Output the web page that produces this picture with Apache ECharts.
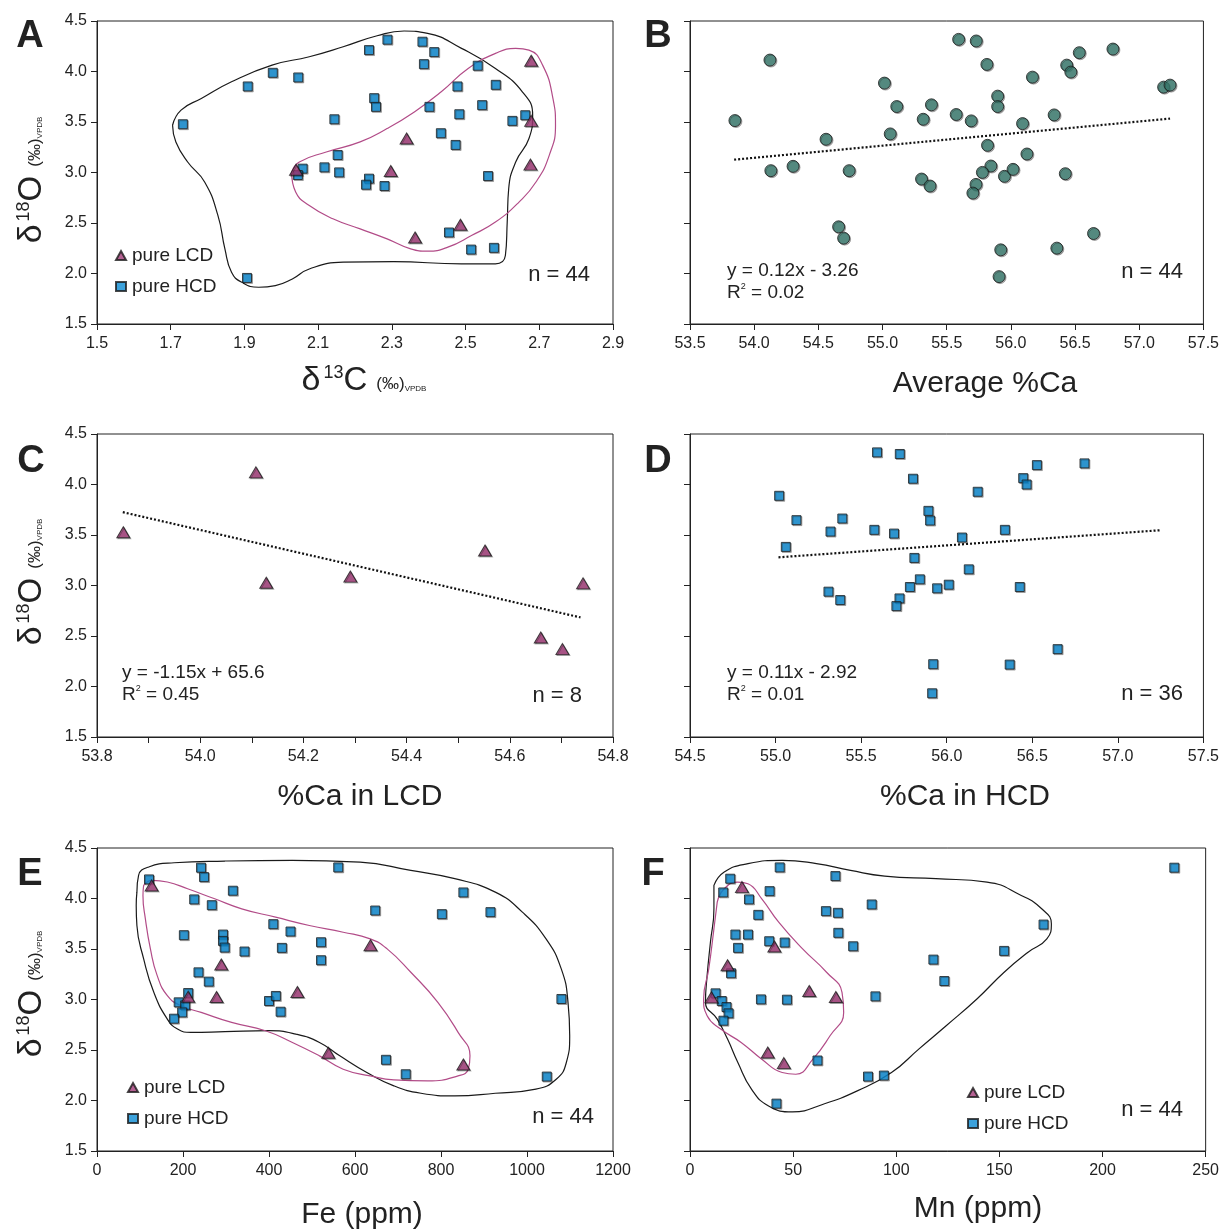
<!DOCTYPE html>
<html>
<head>
<meta charset="utf-8">
<script src="https://cdn.jsdelivr.net/npm/echarts@6/dist/echarts.min.js"></script>
<style>
  html, body { margin: 0; padding: 0; background: #fff; }
  #chart { width: 1222px; height: 1232px; }
</style>
</head>
<body>
<div id="chart"></div>
<script>
const FONT = '"Liberation Sans", Arial, sans-serif';

// tick values
const yTicks = [1.5, 2.0, 2.5, 3.0, 3.5, 4.0, 4.5];
const aXTicks = [1.5, 1.7, 1.9, 2.1, 2.3, 2.5, 2.7, 2.9];
const bXTicks = [53.5, 54.0, 54.5, 55.0, 55.5, 56.0, 56.5, 57.0, 57.5];
const cXLabels = [53.8, 54.0, 54.2, 54.4, 54.6, 54.8];
const cXTicks = [53.8, 53.9, 54.0, 54.1, 54.2, 54.3, 54.4, 54.5, 54.6, 54.7, 54.8];
const dXTicks = [54.5, 55.0, 55.5, 56.0, 56.5, 57.0, 57.5];
const eXTicks = [0, 200, 400, 600, 800, 1000, 1200];
const fXTicks = [0, 50, 100, 150, 200, 250];

// A: d13C vs d18O
const aHcd = [
  [1.733, 3.478], [1.909, 3.852], [1.977, 3.987], [2.046, 3.941], [1.907, 1.956],
  [2.144, 3.527], [2.238, 4.212], [2.288, 4.315], [2.252, 3.736], [2.257, 3.650],
  [2.383, 4.295], [2.415, 4.192], [2.387, 4.073], [2.533, 4.057], [2.478, 3.852],
  [2.582, 3.868], [2.402, 3.650], [2.483, 3.577], [2.545, 3.667], [2.627, 3.511],
  [2.662, 3.567], [2.433, 3.389], [2.473, 3.273], [2.153, 3.173], [2.058, 3.038],
  [2.045, 2.975], [2.117, 3.051], [2.157, 3.001], [2.238, 2.939], [2.230, 2.879],
  [2.280, 2.866], [2.561, 2.965], [2.455, 2.406], [2.515, 2.237], [2.577, 2.254]
];
const aLcd = [
  [2.678, 4.106], [2.678, 3.511], [2.676, 3.078], [2.340, 3.336],
  [2.297, 3.015], [2.040, 3.028], [2.486, 2.482], [2.363, 2.356]
];
const aBlack = [
  [1.705, 3.468], [1.728, 3.617], [1.783, 3.733], [1.865, 3.898], [1.975, 4.063],
  [2.076, 4.146], [2.168, 4.245], [2.260, 4.354], [2.333, 4.401], [2.397, 4.378],
  [2.489, 4.229], [2.581, 4.030], [2.654, 3.799], [2.682, 3.567], [2.672, 3.336],
  [2.636, 3.104], [2.617, 2.839], [2.613, 2.509], [2.608, 2.178], [2.581, 2.095],
  [2.489, 2.095], [2.305, 2.118], [2.168, 2.112], [2.076, 2.045], [2.030, 1.946],
  [1.984, 1.880], [1.939, 1.864], [1.893, 1.913], [1.865, 2.012], [1.847, 2.244],
  [1.828, 2.575], [1.792, 2.906], [1.746, 3.104], [1.714, 3.303]
];
const aMagenta = [
  [2.028, 3.005], [2.049, 3.104], [2.122, 3.203], [2.214, 3.303], [2.287, 3.435],
  [2.361, 3.600], [2.434, 3.799], [2.507, 4.030], [2.581, 4.179], [2.636, 4.229],
  [2.672, 4.212], [2.709, 4.063], [2.737, 3.733], [2.744, 3.468], [2.727, 3.170],
  [2.691, 2.906], [2.645, 2.707], [2.581, 2.509], [2.516, 2.376], [2.452, 2.261],
  [2.397, 2.221], [2.351, 2.244], [2.287, 2.343], [2.214, 2.442], [2.140, 2.542],
  [2.076, 2.674], [2.039, 2.806]
];

// B: average %Ca vs d18O
const bAll = [
  [53.850, 3.514], [54.123, 4.113], [54.130, 3.018], [54.303, 3.061], [54.560, 3.329],
  [54.740, 3.018], [54.658, 2.462], [54.697, 2.350], [55.015, 3.885], [55.111, 3.653],
  [55.060, 3.382], [55.317, 3.527], [55.381, 3.670], [55.304, 2.935], [55.370, 2.866],
  [55.593, 4.318], [55.730, 4.302], [55.574, 3.574], [55.691, 3.511], [55.813, 4.070],
  [55.897, 3.756], [55.897, 3.653], [55.818, 3.269], [55.844, 3.064], [55.778, 3.001],
  [55.728, 2.882], [55.704, 2.796], [55.950, 2.962], [56.017, 3.031], [55.921, 2.234],
  [55.908, 1.969], [56.091, 3.484], [56.125, 3.183], [56.168, 3.944], [56.337, 3.570],
  [56.424, 2.988], [56.358, 2.251], [56.435, 4.063], [56.467, 3.994], [56.533, 4.186],
  [56.644, 2.396], [56.795, 4.222], [57.190, 3.845], [57.240, 3.865]
];
const bTrend = [[53.844, 3.127], [57.240, 3.534]];

// C: %Ca in LCD
const cLcd = [
  [53.851, 3.527], [54.108, 4.120], [54.128, 3.028], [54.291, 3.088],
  [54.552, 3.346], [54.660, 2.485], [54.702, 2.370], [54.742, 3.021]
];
const cTrend = [[53.850, 3.726], [54.737, 2.684]];

// D: %Ca in HCD
const dHcd = [
  [55.021, 3.888], [55.060, 3.382], [55.122, 3.647], [55.321, 3.534], [55.390, 3.663],
  [55.309, 2.939], [55.378, 2.856], [55.577, 3.551], [55.593, 4.318], [55.726, 4.302],
  [55.692, 3.514], [55.803, 4.057], [55.893, 3.739], [55.903, 3.643], [55.811, 3.273],
  [55.843, 3.061], [55.785, 2.985], [55.724, 2.872], [55.706, 2.796], [55.944, 2.972],
  [56.012, 3.008], [55.921, 2.221], [55.915, 1.933], [56.089, 3.475], [56.129, 3.160],
  [56.181, 3.928], [56.340, 3.551], [56.427, 2.985], [56.368, 2.217], [56.447, 4.063],
  [56.467, 4.000], [56.527, 4.192], [56.648, 2.370], [56.805, 4.209]
];
const dTrend = [[55.017, 3.279], [57.246, 3.547]];

// E: Fe (ppm)
const eHcd = [
  [121, 4.189], [242, 4.305], [249, 4.212], [316, 4.077], [226, 3.991],
  [267, 3.934], [202, 3.637], [293, 3.643], [293, 3.580], [297, 3.514],
  [343, 3.475], [410, 3.746], [450, 3.673], [430, 3.511], [521, 3.567],
  [521, 3.389], [561, 4.308], [647, 3.881], [802, 3.845], [852, 4.060],
  [915, 3.865], [236, 3.269], [260, 3.177], [212, 3.064], [190, 2.972],
  [205, 2.942], [198, 2.872], [179, 2.810], [400, 2.985], [416, 3.035],
  [427, 2.879], [672, 2.403], [718, 2.260], [1046, 2.237], [1080, 3.005]
];
const eLcd = [
  [127, 4.129], [212, 3.028], [289, 3.346], [278, 3.025],
  [466, 3.074], [538, 2.472], [636, 3.537], [852, 2.356]
];
const eBlack = [
  [92.8, 4.063], [96.7, 4.229], [120.3, 4.312], [179.3, 4.354], [297.2, 4.371],
  [454.5, 4.378], [611.8, 4.361], [729.8, 4.278], [832.0, 4.196], [926.3, 4.063],
  [989.2, 3.865], [1044.3, 3.600], [1079.7, 3.303], [1095.4, 2.972], [1099.3, 2.641],
  [1091.5, 2.376], [1067.9, 2.211], [1020.7, 2.112], [926.3, 2.072], [832.0, 2.045],
  [753.3, 2.072], [690.4, 2.145], [627.5, 2.277], [564.6, 2.442], [517.4, 2.575],
  [462.4, 2.657], [399.5, 2.691], [297.2, 2.681], [218.6, 2.674], [187.2, 2.707],
  [163.6, 2.806], [132.1, 3.071], [108.5, 3.402], [92.8, 3.733], [91.2, 3.931]
];
const eMagenta = [
  [108.5, 4.130], [128.2, 4.179], [163.6, 4.163], [210.7, 4.096], [273.7, 3.997],
  [336.6, 3.898], [415.2, 3.815], [493.8, 3.733], [572.5, 3.666], [635.4, 3.600],
  [674.7, 3.501], [729.8, 3.270], [792.7, 2.972], [839.8, 2.674], [867.4, 2.442],
  [863.4, 2.310], [839.8, 2.244], [769.1, 2.194], [690.4, 2.204], [635.4, 2.244],
  [572.5, 2.310], [517.4, 2.442], [454.5, 2.575], [391.6, 2.691], [313.0, 2.773],
  [242.2, 2.872], [195.0, 2.939], [163.6, 3.038], [140.0, 3.236], [124.2, 3.501],
  [112.5, 3.799], [106.9, 4.030]
];

// F: Mn (ppm)
const fHcd = [
  [43.5, 4.308], [234.8, 4.305], [19.5, 4.196], [16.1, 4.060], [38.6, 4.073],
  [70.5, 4.222], [28.6, 3.991], [33.1, 3.838], [88.1, 3.941], [65.9, 3.875],
  [71.7, 3.858], [22.0, 3.643], [28.1, 3.643], [23.3, 3.511], [38.4, 3.577],
  [45.9, 3.564], [71.9, 3.660], [79.1, 3.527], [171.4, 3.742], [152.3, 3.481],
  [118.0, 3.395], [123.3, 3.183], [19.9, 3.260], [12.4, 3.061], [15.4, 2.985],
  [17.7, 2.925], [18.7, 2.863], [16.2, 2.790], [34.4, 3.001], [47.0, 2.998],
  [89.9, 3.031], [61.8, 2.396], [86.3, 2.237], [94.0, 2.247], [41.9, 1.969]
];
const fLcd = [
  [25.2, 4.113], [40.9, 3.524], [18.2, 3.339], [10.4, 3.021],
  [57.8, 3.084], [70.7, 3.025], [37.7, 2.476], [45.5, 2.370]
];
const fBlack = [
  [11.6, 4.130], [16.6, 4.262], [28.1, 4.345], [44.7, 4.378], [61.3, 4.345],
  [77.8, 4.278], [94.4, 4.222], [119.2, 4.196], [144.0, 4.163], [160.6, 4.030],
  [170.5, 3.898], [175.2, 3.749], [173.0, 3.600], [163.9, 3.468], [152.3, 3.270],
  [139.1, 3.005], [124.2, 2.740], [110.9, 2.509], [97.7, 2.277], [81.1, 2.095],
  [64.6, 1.963], [49.7, 1.887], [38.1, 1.946], [29.8, 2.112], [23.2, 2.376],
  [18.2, 2.608], [13.2, 2.806], [7.5, 2.972], [8.3, 3.236], [9.9, 3.567], [11.6, 3.898]
];
const fMagenta = [
  [13.2, 3.964], [16.6, 4.096], [23.2, 4.163], [28.1, 4.146], [34.8, 3.997],
  [43.0, 3.766], [54.6, 3.501], [66.2, 3.270], [73.7, 3.071], [74.5, 2.872],
  [67.9, 2.641], [59.6, 2.409], [51.3, 2.260], [44.7, 2.277], [34.8, 2.409],
  [24.8, 2.575], [14.9, 2.707], [8.3, 2.839], [6.6, 3.005], [9.1, 3.303], [11.6, 3.700]
];

const HCD_COLOR = "#0b8bd3";
const LCD_COLOR = "#a23a78";
const AVG_COLOR = "#3b7d70";
const MAG_LINE = "#b24c88";
const INK = "#222";

const chart = echarts.init(document.getElementById("chart"));

const panels = [
  { left: 97, top: 21, x: [1.5, 2.9], labels: aXTicks, ticks: aXTicks, showY: true, dec: 1 },
  { left: 690, top: 21, x: [53.5, 57.5], labels: bXTicks, ticks: bXTicks, showY: false, dec: 1 },
  { left: 97, top: 434, x: [53.8, 54.8], labels: cXLabels, ticks: cXTicks, showY: true, dec: 1 },
  { left: 690, top: 434, x: [54.5, 57.5], labels: dXTicks, ticks: dXTicks, showY: false, dec: 1 },
  { left: 97, top: 848, x: [0, 1200], labels: eXTicks, ticks: eXTicks, showY: true, dec: 0 },
  { left: 690, top: 848, x: [0, 250], labels: fXTicks, ticks: fXTicks, showY: false, dec: 0 },
];

const grids = panels.map((p) => ({
  left: p.left,
  top: p.top,
  width: 516,
  height: 303,
  show: true,
  borderColor: INK,
  borderWidth: 1,
}));

const xAxes = panels.map((p, i) => ({
  type: "value",
  gridIndex: i,
  min: p.x[0],
  max: p.x[1],
  axisLine: { show: true, lineStyle: { color: INK } },
  axisTick: { show: true, inside: false, length: 6, customValues: p.ticks, lineStyle: { color: INK } },
  axisLabel: {
    customValues: p.labels,
    margin: 12,
    color: INK,
    fontSize: 16,
    fontFamily: FONT,
    formatter: (v) => v.toFixed(p.dec),
  },
  splitLine: { show: false },
}));

const yAxes = panels.map((p, i) => ({
  type: "value",
  gridIndex: i,
  min: 1.5,
  max: 4.5,
  axisLine: { show: true, lineStyle: { color: INK } },
  axisTick: { show: true, inside: false, length: 6, customValues: yTicks, lineStyle: { color: INK } },
  axisLabel: {
    show: p.showY,
    customValues: yTicks,
    margin: 10,
    color: INK,
    fontSize: 16,
    fontFamily: FONT,
    formatter: (v) => v.toFixed(1),
  },
  splitLine: { show: false },
}));

const shadow = { shadowColor: "rgba(0,0,0,0.35)", shadowBlur: 0, shadowOffsetX: 1, shadowOffsetY: 1 };

function hcd(i, data) {
  return {
    type: "scatter", name: "pure HCD", xAxisIndex: i, yAxisIndex: i, data,
    symbol: "rect", symbolSize: 9, z: 4,
    itemStyle: Object.assign({ color: HCD_COLOR, borderColor: "#1a1a1a", borderWidth: 1 }, shadow),
  };
}
function lcd(i, data) {
  return {
    type: "scatter", name: "pure LCD", xAxisIndex: i, yAxisIndex: i, data,
    symbol: "triangle", symbolSize: [13, 11], z: 5,
    itemStyle: Object.assign({ color: LCD_COLOR, borderColor: "#1a1a1a", borderWidth: 1 }, shadow),
  };
}
function outline(i, data, color) {
  return {
    type: "line", xAxisIndex: i, yAxisIndex: i, data: data.concat([data[0]]),
    smooth: 0.5, symbol: "none", silent: true, z: 2,
    lineStyle: { color, width: 1.2 },
  };
}
function trend(i, data) {
  return {
    type: "line", xAxisIndex: i, yAxisIndex: i, data,
    symbol: "none", silent: true, z: 3,
    lineStyle: { color: "#111", width: 2.2, type: [2, 2] },
  };
}

const series = [
  outline(0, aBlack, "#1a1a1a"), outline(0, aMagenta, MAG_LINE),
  hcd(0, aHcd), lcd(0, aLcd),
  trend(1, bTrend),
  {
    type: "scatter", name: "avg", xAxisIndex: 1, yAxisIndex: 1, data: bAll,
    symbol: "circle", symbolSize: 12, z: 4,
    itemStyle: Object.assign({ color: AVG_COLOR, borderColor: "#1a1a1a", borderWidth: 1 }, shadow),
  },
  trend(2, cTrend), lcd(2, cLcd),
  trend(3, dTrend), hcd(3, dHcd),
  outline(4, eBlack, "#1a1a1a"), outline(4, eMagenta, MAG_LINE),
  hcd(4, eHcd), lcd(4, eLcd),
  outline(5, fBlack, "#1a1a1a"), outline(5, fMagenta, MAG_LINE),
  hcd(5, fHcd), lcd(5, fLcd),
];

const legendBase = {
  orient: "vertical",
  padding: 0,
  itemWidth: 10,
  itemHeight: 9,
  itemGap: 12,
  selectedMode: false,
  textStyle: { fontSize: 19, color: INK, fontFamily: FONT, padding: [0, 0, 0, 1] },
  data: [{ name: "pure LCD", icon: "triangle" }, { name: "pure HCD", icon: "rect" }],
};
const legends = [
  Object.assign({ left: 115, top: 246 }, legendBase),
  Object.assign({ left: 127, top: 1078 }, legendBase),
  Object.assign({ left: 967, top: 1083 }, legendBase),
];

// rich text pieces for the isotope titles
const isoRich = {
  d: { fontSize: 34, fontFamily: FONT, fill: INK },
  big: { fontSize: 33, fontFamily: FONT, fill: INK },
  sup: { fontSize: 18, fontFamily: FONT, fill: INK, padding: [0, 0, 15, 3] },
  p: { fontSize: 17, fontFamily: FONT, fill: INK, padding: [6, 0, 0, 9] },
  sub: { fontSize: 8, fontFamily: FONT, fill: INK, padding: [16, 0, 0, 0] },
};

function text(x, y, str, size, opts) {
  return {
    type: "text", x, y, silent: true,
    style: Object.assign({ text: str, fontSize: size, fontFamily: FONT, fill: INK, align: "center", verticalAlign: "middle" }, opts || {}),
  };
}
function yTitle(cy) {
  return {
    type: "text", x: 32, y: cy, rotation: Math.PI / 2, silent: true,
    style: { text: "{d|δ}{sup|18}{big|O}{p|(‰)}{sub|VPDB}", rich: isoRich, align: "center", verticalAlign: "middle" },
  };
}

const graphic = [
  text(30, 37, "A", 38, { fontWeight: "bold" }),
  text(658, 37, "B", 38, { fontWeight: "bold" }),
  text(31, 462, "C", 38, { fontWeight: "bold" }),
  text(658, 462, "D", 38, { fontWeight: "bold" }),
  text(30, 875, "E", 38, { fontWeight: "bold" }),
  text(653, 875, "F", 38, { fontWeight: "bold" }),
  yTitle(180), yTitle(582), yTitle(994),
  {
    type: "text", x: 364, y: 381, silent: true,
    style: { text: "{d|δ}{sup|13}{big|C}{p|(‰)}{sub|VPDB}", rich: isoRich, align: "center", verticalAlign: "middle" },
  },
  text(985, 384, "Average %Ca", 30, { letterSpacing: 2.2 }),
  text(360, 797, "%Ca in LCD", 30, { letterSpacing: 2 }),
  text(965, 797, "%Ca in HCD", 30, { letterSpacing: 2 }),
  text(362, 1215, "Fe (ppm)", 30, { letterSpacing: 2 }),
  text(978, 1209, "Mn (ppm)", 30, { letterSpacing: 2 }),
  text(590, 275, "n = 44", 22, { align: "right" }),
  text(1183, 272, "n = 44", 22, { align: "right" }),
  text(582, 696, "n = 8", 22, { align: "right" }),
  text(1183, 694, "n = 36", 22, { align: "right" }),
  text(594, 1117, "n = 44", 22, { align: "right" }),
  text(1183, 1110, "n = 44", 22, { align: "right" }),
];

const eqRich = {
  t: { fontSize: 19, fontFamily: FONT, fill: INK },
  s: { fontSize: 9, fontFamily: FONT, fill: INK, padding: [0, 0, 12, 0] },
};
function equation(x, y, line1, r2) {
  graphic.push(text(x, y, line1, 19, { align: "left", letterSpacing: 0.6 }));
  graphic.push({
    type: "text", x, y: y + 22, silent: true,
    style: { text: "{t|R}{s|2}{t| = " + r2 + "}", rich: eqRich, align: "left", verticalAlign: "middle" },
  });
}
equation(727, 271, "y = 0.12x - 3.26", "0.02");
equation(122, 673, "y = -1.15x + 65.6", "0.45");
equation(727, 673, "y = 0.11x - 2.92", "0.01");

chart.setOption({
  animation: false,
  backgroundColor: "#fff",
  textStyle: { fontFamily: FONT },
  grid: grids,
  xAxis: xAxes,
  yAxis: yAxes,
  legend: legends,
  series,
  graphic,
});
</script>
</body>
</html>
